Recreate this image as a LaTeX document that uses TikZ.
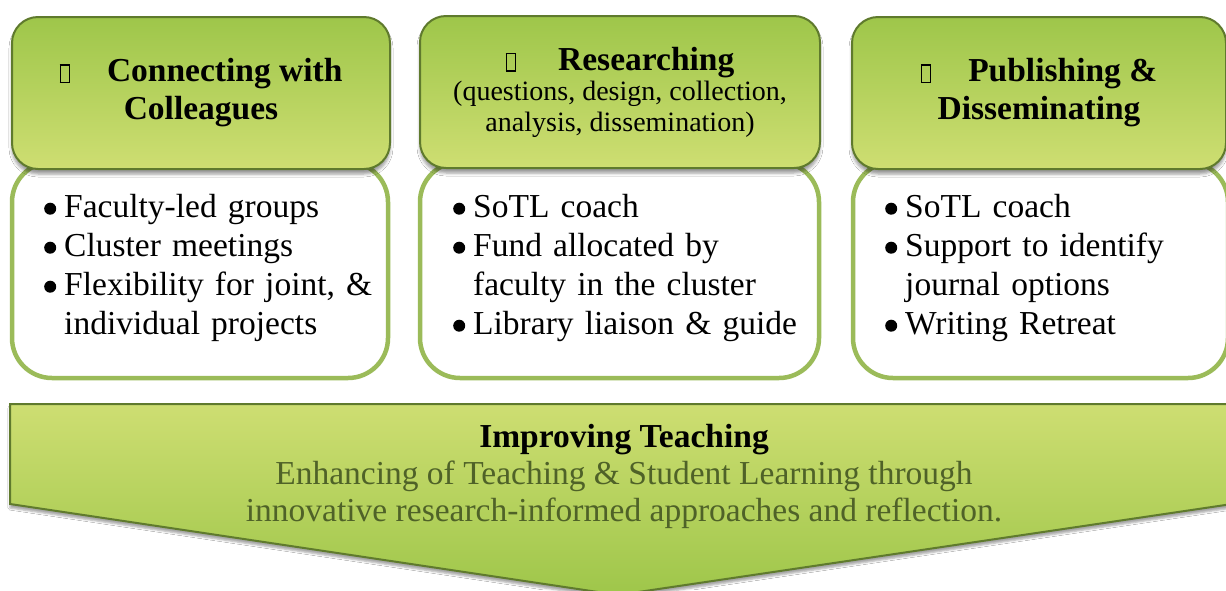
\documentclass[tikz,border=0pt]{standalone}
\usepackage{fontspec}
\setmainfont{Liberation Serif}
\usetikzlibrary{shadows.blur}

\definecolor{leafdark}{RGB}{95,122,45}
\definecolor{leaftop}{RGB}{158,198,74}
\definecolor{leafpale}{RGB}{206,222,114}
\definecolor{leafline}{RGB}{155,187,89}
\definecolor{olivetext}{RGB}{79,98,40}

\newcommand{\tofu}{{\setlength{\fboxsep}{0pt}\setlength{\fboxrule}{1.5pt}\fbox{\rule{0pt}{16pt}\hspace{7.5pt}}}}
\newcommand{\dotmark}{\tikz[baseline=-8.5pt]\fill (0pt,0pt) circle (6pt);}
\newenvironment{dotlist}{\begin{list}{\dotmark}{\setlength{\leftmargin}{20pt}%
    \setlength{\labelwidth}{20pt}\setlength{\labelsep}{0pt}\setlength{\itemsep}{0pt}%
    \setlength{\parsep}{0pt}\setlength{\topsep}{0pt}\setlength{\partopsep}{0pt}%
    \renewcommand{\makelabel}[1]{##1\hfil}}\raggedright}{\end{list}}

\begin{document}
\begin{tikzpicture}[x=1pt,y=-1pt,
    head/.style={draw=leafdark, line width=2pt, rounded corners=26pt,
        top color=leaftop, bottom color=leafpale, align=center,
        minimum height=152pt, font=\fontsize{33.5}{38}\selectfont\bfseries,
        blur shadow={shadow xshift=0pt, shadow yshift=-5pt, shadow blur radius=3pt, shadow opacity=40}},
    card/.style={draw=leafline, line width=4.5pt, rounded corners=40pt,
        fill=white, minimum height=216pt},
    items/.style={anchor=north west, inner sep=0pt, text width=360pt,
        font=\fontsize{33.5}{39}\selectfont}]
    \useasboundingbox[fill=white] (0,0) rectangle (1226,590);

    % goal arrow
    \draw[draw=leafdark, line width=2pt, top color=leafpale, bottom color=leaftop,
        blur shadow={shadow xshift=0pt, shadow yshift=-4pt, shadow blur radius=2pt, shadow opacity=35}]
        (10,404) -- (1232,404) -- (1232,504) -- (618,595) -- (10,504) -- cycle;
    \node[align=center, text=olivetext, font=\fontsize{33.5}{37}\selectfont] (goal) at (624,476)
        {{\color{black}\bfseries Improving Teaching}\\
         Enhancing of Teaching \& Student Learning through\\
         innovative research-informed approaches and reflection.};

    % cards
    \node[card, minimum width=376pt] (c1) at (200,270) {};
    \node[card, minimum width=399pt] (c2) at (619.5,270) {};
    \node[card, minimum width=375pt] (c3) at (1040.5,270) {};

    \node[items] (l1) at (44,178) {\begin{dotlist}
        \item Faculty-led groups
        \item Cluster meetings
        \item Flexibility for joint, \&\newline individual projects
        \end{dotlist}};
    \node[items] (l2) at (453,178) {\begin{dotlist}
        \item SoTL coach
        \item Fund allocated by\newline faculty in the cluster
        \item Library liaison \& guide
        \end{dotlist}};
    \node[items] (l3) at (885,178) {\begin{dotlist}
        \item SoTL coach
        \item Support to identify\newline journal options
        \item Writing Retreat
        \end{dotlist}};

    % headers
    \node[head, minimum width=378pt] (h1) at (201,93)
        {\tofu\hspace{37pt}Connecting with\\Colleagues};
    \node[head, minimum width=400pt] (h2) at (620,92)
        {\tofu\hspace{42pt}Researching\\[-8pt]
         {\mdseries\fontsize{28}{30}\selectfont (questions, design, collection,}\\[-7pt]
         {\mdseries\fontsize{28}{30}\selectfont analysis, dissemination)}};
    \node[head, minimum width=374pt] (h3) at (1039,93)
        {\tofu\hspace{37pt}Publishing \&\hspace{33pt}\\Disseminating};
\end{tikzpicture}
\end{document}
